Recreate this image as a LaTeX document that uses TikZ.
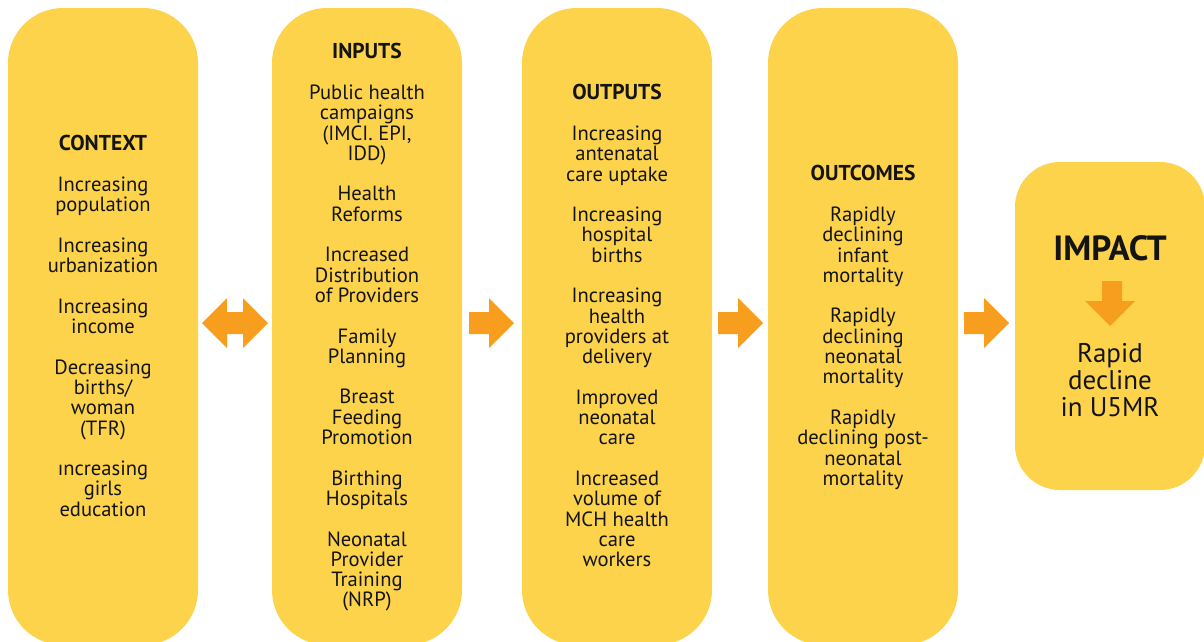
\documentclass[tikz,border=0pt]{standalone}
\usepackage{fontspec}
\setmainfont{PT Sans}
\definecolor{panel}{HTML}{FCD34B}
\definecolor{flow}{HTML}{F79E1F}
\definecolor{ink}{HTML}{141414}
% fixed baseline grid: never let TeX push lines apart
\newcommand{\tightgrid}{\lineskiplimit=-100pt\lineskip=0pt}
\tikzset{
  panelbox/.style={fill=panel, draw=none, rounded corners=55pt},
  impactbox/.style={fill=panel, draw=none, rounded corners=45pt},
  blockarrow/.style={fill=flow, draw=none},
  coltext/.style={anchor=north, align=center, inner sep=0pt, text=ink,
    font=\fontsize{20.6}{20.3}\selectfont\tightgrid},
}
\newcommand{\gap}{\\[20.3pt]}
\newcommand{\hdr}[1]{\strut{\fontsize{21.5}{20.3}\selectfont\bfseries #1}}
\begin{document}
\begin{tikzpicture}[x=1pt, y=-1pt]
  \useasboundingbox (0,0) rectangle (1204,641);
  \clip (0,0) rectangle (1204,641);

  % the four tall stage columns (they run off the bottom edge)
  \fill[panelbox] (8,8) rectangle (198,645);
  \fill[panelbox] (272,8) rectangle (462,645);
  \fill[panelbox] (522,8) rectangle (712,645);
  \fill[panelbox] (768,8) rectangle (958,645);
  % impact box
  \fill[impactbox] (1015,162) rectangle (1205,490);

  % column texts
  \node[coltext] (context) at (103,135.3) {\hdr{CONTEXT}\gap
    Increasing\\population\gap
    Increasing\\urbanization\gap
    Increasing\\income\gap
    Decreasing\\births/\\woman\\(TFR)\gap
    ıncreasing\\girls\\education};

  \node[coltext] (inputs) at (367,43.3) {\hdr{INPUTS}\gap
    Public health\\campaigns\\(IMCI. EPI,\\IDD)\gap
    Health\\Reforms\gap
    Increased\\Distribution\\of Providers\gap
    Family\\Planning\gap
    Breast\\Feeding\\Promotion\gap
    Birthing\\Hospitals\gap
    Neonatal\\Provider\\Training\\(NRP)};

  \node[coltext] (outputs) at (617,84.3) {\hdr{OUTPUTS}\gap
    Increasing\\antenatal\\care uptake\gap
    Increasing\\hospital\\births\gap
    Increasing\\health\\providers at\\delivery\gap
    Improved\\neonatal\\care\gap
    Increased\\volume of\\MCH health\\care\\workers};

  \node[coltext] (outcomes) at (863,165.3) {\hdr{OUTCOMES}\gap
    Rapidly\\declining\\infant\\mortality\gap
    Rapidly\\declining\\neonatal\\mortality\gap
    Rapidly\\declining post-\\neonatal\\mortality};

  \node[anchor=base, inner sep=0pt, text=ink,
        font=\fontsize{35}{37}\selectfont\bfseries] (impact) at (1110,260.5) {IMPACT};
  \node[coltext, font=\fontsize{27}{27}\selectfont\tightgrid] (result) at (1110,343)
    {\strut Rapid\\decline\\in U5MR};

  % two-headed arrow between context and inputs
  \fill[blockarrow] (202,323) -- (227,298) -- (227,312) -- (243,312) -- (243,298)
    -- (268,323) -- (243,348) -- (243,334) -- (227,334) -- (227,348) -- cycle;

  % forward arrows between stages
  \foreach \x in {469,718,964} {
    \fill[blockarrow] (\x,312) -- (\x+20,312) -- (\x+20,298) -- (\x+45,323)
      -- (\x+20,348) -- (\x+20,334) -- (\x,334) -- cycle;
  }

  % downward arrow inside the impact box
  \fill[blockarrow] (1102,281) -- (1122,281) -- (1122,301) -- (1135,301)
    -- (1110,326) -- (1085,301) -- (1102,301) -- cycle;
\end{tikzpicture}
\end{document}
